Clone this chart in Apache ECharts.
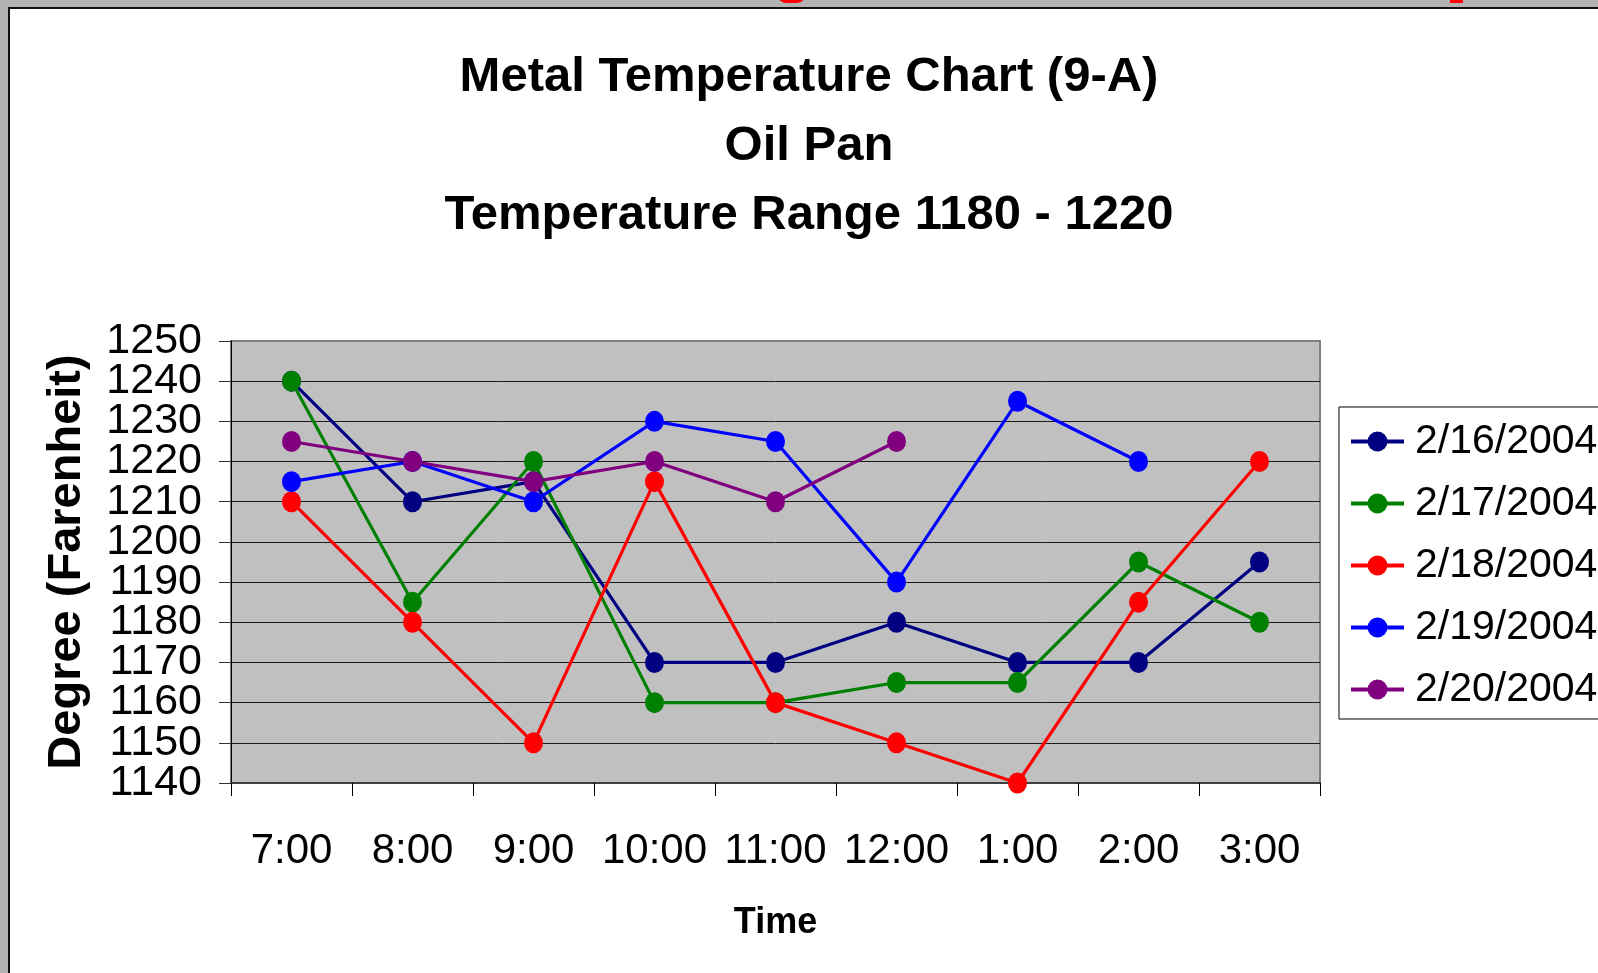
<!DOCTYPE html>
<html>
<head>
<meta charset="utf-8">
<script src="https://cdn.jsdelivr.net/npm/echarts@6/dist/echarts.min.js"></script>
<style>
  html, body { margin: 0; padding: 0; background: #b3b3b3; overflow: hidden; }
  #frame { position: absolute; left: 8px; top: 7px; width: 1600px; height: 980px;
           background: #fff; border-left: 2px solid #111; border-top: 2px solid #111; }
  .cut { position: absolute; background: #ff0000; }
  #chart { position: absolute; left: 0; top: 0; width: 1598px; height: 973px; }
</style>
</head>
<body>
<div id="frame"></div>
<div class="cut" style="left:777px; top:-6px; width:29px; height:9px; border-radius:0 0 15px 15px;"></div>
<div class="cut" style="left:1450px; top:0; width:13px; height:3px;"></div>
<div id="chart"></div>
<script>
var hours = ['7:00', '8:00', '9:00', '10:00', '11:00', '12:00', '1:00', '2:00', '3:00'];
var days = ['2/16/2004', '2/17/2004', '2/18/2004', '2/19/2004', '2/20/2004'];
var colors = ['#000080', '#008000', '#ff0000', '#0000ff', '#800080'];

// degrees, null = no reading
var feb16 = [1240, 1210, 1215, 1170, 1170, 1180, 1170, 1170, 1195];
var feb17 = [1240, 1185, 1220, 1160, 1160, 1165, 1165, 1195, 1180];
var feb18 = [1210, 1180, 1150, 1215, 1160, 1150, 1140, 1185, 1220];
var feb19 = [1215, 1220, 1210, 1230, 1225, 1190, 1235, 1220, null];
var feb20 = [1225, 1220, 1215, 1220, 1210, 1225, null, null, null];
var readings = [feb16, feb17, feb18, feb19, feb20];

var yMin = 1140, yMax = 1250, yStep = 10;

var font = "'Liberation Sans', Arial, sans-serif";

var dom = document.getElementById('chart');
var myChart = echarts.init(dom, null, { renderer: 'canvas' });

var series = days.map(function (d, i) {
    return {
        name: d,
        type: 'line',
        yAxisIndex: 0,
        data: readings[i],
        color: colors[i],
        symbol: 'circle',
        symbolSize: [19, 21],
        lineStyle: { width: 3.2 },
        connectNulls: false,
        animation: false
    };
});

var labelStyle = {
    fontFamily: font,
    fontSize: 43,
    lineHeight: 28,
    margin: 29,
    color: '#000',
    hideOverlap: false,
    showMinLabel: true,
    showMaxLabel: true
};

// the labels sit so close that echarts drops some, so they are split over two stacked axes
function labelsEvery(offset) {
    return Object.assign({}, labelStyle, {
        formatter: function (v) {
            return ((v - yMin) / yStep) % 2 === offset ? String(v) : '';
        }
    });
}

var option = {
    backgroundColor: 'transparent',
    title: {
        text: 'Metal Temperature Chart (9-A)\nOil Pan\nTemperature Range 1180 - 1220',
        left: 809,
        top: 43,
        padding: 0,
        textAlign: 'center',
        textStyle: {
            fontFamily: font,
            fontWeight: 'bold',
            fontSize: 49,
            lineHeight: 69,
            color: '#000'
        }
    },
    legend: {
        orient: 'vertical',
        left: 1339,
        top: 407,
        padding: [14, 30, 9, 10],
        borderColor: '#000',
        borderWidth: 1,
        backgroundColor: '#fff',
        itemWidth: 53,
        itemHeight: 25,
        itemGap: 21,
        lineStyle: { width: 4 },
        textStyle: {
            fontFamily: font,
            fontSize: 41,
            lineHeight: 41,
            color: '#000',
            padding: [0, 0, 0, 6]
        },
        data: days
    },
    grid: {
        left: 231,
        right: 278,
        top: 341,
        bottom: 190,
        show: true,
        backgroundColor: '#c0c0c0',
        borderColor: '#808080',
        borderWidth: 2
    },
    xAxis: {
        type: 'category',
        data: hours,
        boundaryGap: true,
        name: 'Time',
        nameLocation: 'middle',
        nameGap: 122,
        nameTextStyle: {
            fontFamily: font,
            fontWeight: 'bold',
            fontSize: 36,
            lineHeight: 36,
            color: '#000'
        },
        axisLine: { lineStyle: { color: '#404040', width: 2 } },
        axisTick: { show: true, interval: 0, length: 13, lineStyle: { color: '#000', width: 1 } },
        axisLabel: {
            interval: 0,
            fontFamily: font,
            fontSize: 42,
            lineHeight: 42,
            margin: 47,
            color: '#000'
        },
        splitLine: { show: false }
    },
    yAxis: [
        {
            type: 'value',
            position: 'left',
            min: yMin,
            max: yMax,
            interval: yStep,
            name: 'Degree (Farenheit)',
            nameLocation: 'middle',
            nameRotate: 90,
            nameGap: 140,
            nameTextStyle: {
                fontFamily: font,
                fontWeight: 'bold',
                fontSize: 47,
                lineHeight: 47,
                color: '#000'
            },
            axisLine: { show: true, lineStyle: { color: '#000', width: 1 } },
            axisTick: { show: true, length: 12, lineStyle: { color: '#333', width: 1 } },
            axisLabel: labelsEvery(0),
            splitLine: {
                show: true,
                showMinLine: false,
                showMaxLine: false,
                lineStyle: { color: '#1a1a1a', width: 1 }
            }
        },
        {
            type: 'value',
            position: 'left',
            offset: 0,
            min: yMin,
            max: yMax,
            interval: yStep,
            axisLine: { show: false },
            axisTick: { show: false },
            axisLabel: labelsEvery(1),
            splitLine: { show: false }
        }
    ],
    series: series
};

if (option && typeof option === 'object') {
    myChart.setOption(option, true);
}
</script>
</body>
</html>
